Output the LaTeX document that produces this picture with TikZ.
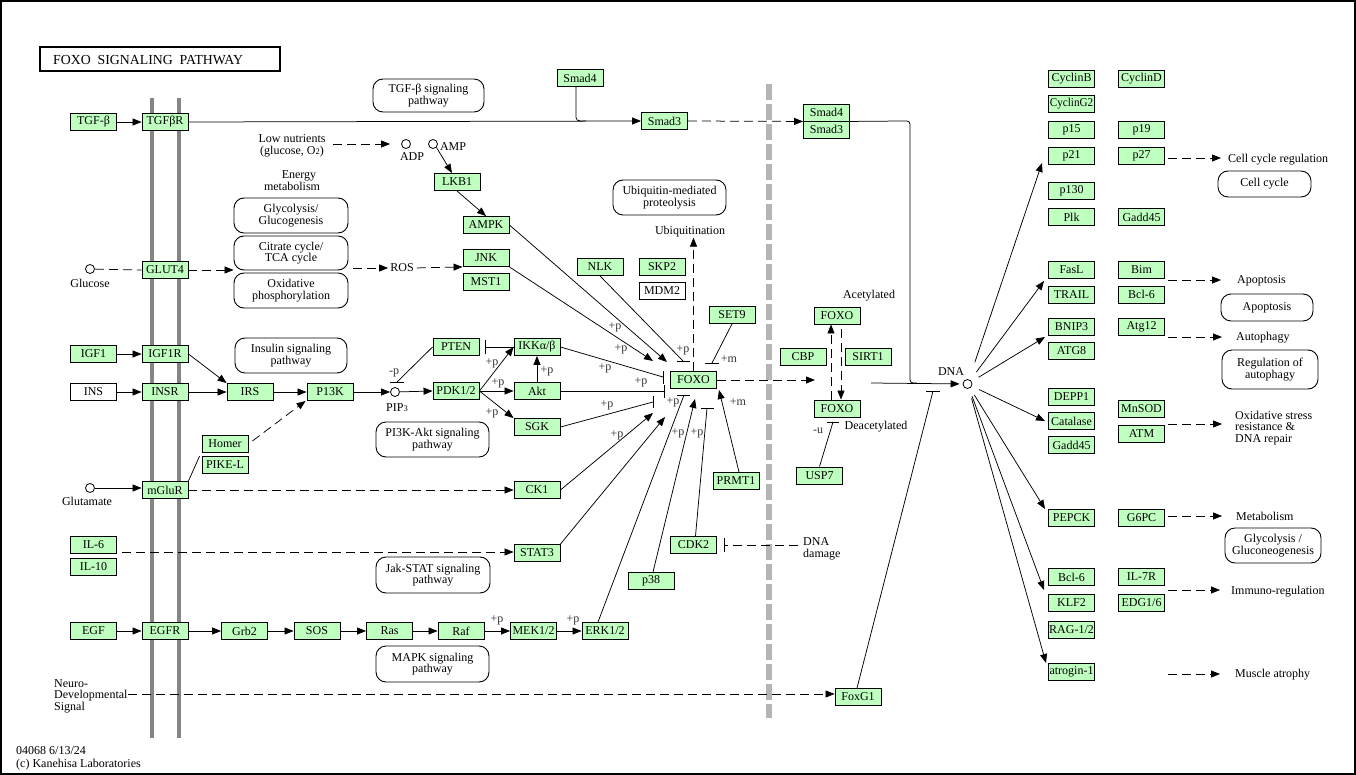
\documentclass[tikz,border=0pt]{standalone}
\usepackage{fontspec}
\usepackage{graphicx}
\setmainfont{Liberation Serif}
\usetikzlibrary{arrows.meta}
\definecolor{kg}{HTML}{BFFFBF}
\definecolor{memb}{HTML}{858585}
\definecolor{sepc}{HTML}{B5B5B5}
\definecolor{txg}{HTML}{333333}
\newcommand{\nf}{\fontsize{12}{12}\selectfont}
\newcommand{\tf}{\fontsize{12}{11.5}\selectfont}
\newcommand{\pf}{\fontsize{12}{12}\selectfont}
\newcommand{\cz}[1]{\scalebox{0.93}[1]{#1}}
\newcommand{\sbs}[1]{{\fontsize{8.5}{8.5}\selectfont #1}}
\tikzset{
 gn/.style={draw, fill=kg, line width=0.9pt, minimum width=46pt, minimum height=17pt, inner sep=0pt, font=\nf},
 wn/.style={gn, fill=white},
 pw/.style={draw, line width=0.9pt, rounded corners=10pt, align=center, inner sep=0pt, font=\tf},
 ln/.style={line width=0.75pt},
 ar/.style={ln, -{Triangle[length=9pt,width=7pt]}},
 da/.style={ln, dash pattern=on 9pt off 5pt},
 dar/.style={da, -{Triangle[length=9pt,width=7pt]}},
 tx/.style={font=\tf, inner sep=0pt, align=center},
 txl/.style={font=\tf, inner sep=0pt, align=left, anchor=west},
 pl/.style={font=\pf, inner sep=0pt, text=txg},
 cir/.style={circle, draw, line width=0.8pt, fill=white, minimum size=9pt, inner sep=0pt},
}
\begin{document}
\begin{tikzpicture}[x=1pt,y=-1pt]
\useasboundingbox (0,0) rectangle (1356,775);
\draw[line width=1.2pt] (1,1) rectangle (1355,774);
% title
\node[draw, line width=1.6pt, minimum width=240pt, minimum height=24pt, inner sep=0pt] (title) at (160,59) {};
\node[anchor=west, inner sep=0pt, font=\fontsize{13.8}{13.8}\selectfont] (titletext) at (53,60) {FOXO\ \ SIGNALING\ \ PATHWAY};
% membrane and separator
\draw[line width=4pt, memb] (152,98) -- (152,738);
\draw[line width=4pt, memb] (179,98) -- (179,738);
\draw[line width=6.5pt, sepc, dash pattern=on 16pt off 4pt] (769,84) -- (769,718);

% pathway boxes
\node[pw, minimum width=111pt, minimum height=33pt] (tgfpw) at (428.5,95.5) {TGF-β signaling\\pathway};
\node[pw, minimum width=114pt, minimum height=35pt] (glyc) at (291,215.5) {Glycolysis/\\Glucogenesis};
\node[pw, minimum width=114pt, minimum height=34pt] (citr) at (291,253) {Citrate cycle/\\TCA cycle};
\node[pw, minimum width=114pt, minimum height=35pt] (oxph) at (291,290.5) {Oxidative\\phosphorylation};
\node[pw, minimum width=113pt, minimum height=35pt] (ubpw) at (669.5,197.5) {Ubiquitin-mediated\\proteolysis};
\node[pw, minimum width=112pt, minimum height=35pt] (inspw) at (291,355.5) {Insulin signaling\\pathway};
\node[pw, minimum width=113pt, minimum height=35pt] (pi3kpw) at (432.5,439.5) {PI3K-Akt signaling\\pathway};
\node[pw, minimum width=114pt, minimum height=36pt] (jakpw) at (433,575) {Jak-STAT signaling\\pathway};
\node[pw, minimum width=113pt, minimum height=36pt] (mapkpw) at (432.5,664) {MAPK signaling\\pathway};
\node[pw, minimum width=93pt, minimum height=26pt] (ccpw) at (1264.5,184) {Cell cycle};
\node[pw, minimum width=92pt, minimum height=27pt] (appw) at (1267,307.5) {Apoptosis};
\node[pw, minimum width=96pt, minimum height=39pt] (aupw) at (1270,369.5) {Regulation of\\autophagy};
\node[pw, minimum width=96pt, minimum height=35pt] (glpw) at (1273,545.5) {Glycolysis /\\Gluconeogenesis};

% gene nodes
\node[gn] (tgfb) at (93.5,122) {TGF-β};
\node[gn] (tgfbr) at (165,122) {TGFβR};
\node[gn] (smad4a) at (580,78) {Smad4};
\node[gn] (smad3a) at (664.5,121) {Smad3};
\node[gn] (smadc4) at (826.5,112.5) {Smad4};
\node[gn] (smadc3) at (826.5,129.5) {Smad3};
\node[gn] (lkb1) at (457,182) {LKB1};
\node[gn] (ampk) at (486,225) {AMPK};
\node[gn] (jnk) at (486,258) {JNK};
\node[gn] (mst1) at (486,282) {MST1};
\node[gn] (glut4) at (165,270) {GLUT4};
\node[gn] (nlk) at (600,267) {NLK};
\node[gn] (skp2) at (662,267) {SKP2};
\node[wn] (mdm2) at (662,291) {MDM2};
\node[gn] (set9) at (732,315) {SET9};
\node[gn] (igf1) at (93.5,354) {IGF1};
\node[gn] (igf1r) at (165,354) {IGF1R};
\node[wn] (ins) at (93.5,392) {INS};
\node[gn] (insr) at (165,392) {INSR};
\node[gn] (irs) at (250,392) {IRS};
\node[gn] (pi3k) at (330,392) {P13K};
\node[gn] (pten) at (456,347) {PTEN};
\node[gn] (ikk) at (537,347) {IKKα/β};
\node[gn] (pdk) at (456,391) {PDK1/2};
\node[gn] (akt) at (537,391) {Akt};
\node[gn] (sgk) at (537,427) {SGK};
\node[gn] (foxo) at (693.5,380) {FOXO};
\node[gn] (homer) at (225,444) {Homer};
\node[gn] (pikel) at (225,465) {PIKE-L};
\node[gn] (mglur) at (165,490) {mGluR};
\node[gn] (ck1) at (537,490) {CK1};
\node[gn] (prmt1) at (736,481) {PRMT1};
\node[gn] (cbp) at (803,357) {CBP};
\node[gn] (sirt1) at (868,357) {SIRT1};
\node[gn] (foxoa) at (837,315.5) {FOXO};
\node[gn] (foxod) at (837,408.5) {FOXO};
\node[gn] (usp7) at (819.5,475.5) {USP7};
\node[gn] (il6) at (93.5,545) {IL-6};
\node[gn] (il10) at (93.5,567) {IL-10};
\node[gn] (stat3) at (537,553) {STAT3};
\node[gn] (cdk2) at (693.5,545) {CDK2};
\node[gn] (p38) at (651,581) {p38};
\node[gn] (egf) at (93.5,631) {EGF};
\node[gn] (egfr) at (165,631) {EGFR};
\node[gn] (grb2) at (244.5,631) {Grb2};
\node[gn] (sos) at (317,631) {SOS};
\node[gn] (ras) at (389.5,631) {Ras};
\node[gn] (raf) at (461,631) {Raf};
\node[gn] (mek) at (533.5,631) {MEK1/2};
\node[gn] (erk) at (605,631) {ERK1/2};
\node[gn] (foxg1) at (858,697) {FoxG1};
% right columns
\node[gn] (cyclinb) at (1071.5,78.5) {CyclinB};
\node[gn] (cyclind) at (1141.5,78.5) {CyclinD};
\node[gn] (cycling2) at (1071.5,104) {\cz{CyclinG2}};
\node[gn] (p15) at (1071.5,129.5) {p15};
\node[gn] (p19) at (1141.5,129.5) {p19};
\node[gn] (p21) at (1071.5,155.5) {p21};
\node[gn] (p27) at (1141.5,155.5) {p27};
\node[gn] (p130) at (1071.5,191) {p130};
\node[gn] (plk) at (1071.5,217) {Plk};
\node[gn] (gadda) at (1141.5,217) {Gadd45};
\node[gn] (fasl) at (1071.5,270) {FasL};
\node[gn] (bim) at (1141.5,270) {Bim};
\node[gn] (trail) at (1071.5,294.5) {TRAIL};
\node[gn] (bcla) at (1141.5,294.5) {Bcl-6};
\node[gn] (bnip3) at (1071.5,327) {BNIP3};
\node[gn] (atg12) at (1141.5,327) {Atg12};
\node[gn] (atg8) at (1071.5,350.5) {ATG8};
\node[gn] (depp1) at (1071.5,397) {DEPP1};
\node[gn] (mnsod) at (1141.5,409) {MnSOD};
\node[gn] (catalase) at (1071.5,421) {Catalase};
\node[gn] (atm) at (1141.5,433.5) {ATM};
\node[gn] (gaddb) at (1071.5,445) {Gadd45};
\node[gn] (pepck) at (1071.5,517.5) {PEPCK};
\node[gn] (g6pc) at (1141.5,517.5) {G6PC};
\node[gn] (bclb) at (1071.5,577) {Bcl-6};
\node[gn] (il7r) at (1141.5,577) {IL-7R};
\node[gn] (klf2) at (1071.5,602.5) {KLF2};
\node[gn] (edg) at (1141.5,602.5) {EDG1/6};
\node[gn] (rag) at (1071.5,629.5) {RAG-1/2};
\node[gn] (atrogin) at (1071.5,672) {atrogin-1};

% small molecules
\node[cir] (glc) at (90,269) {};
\node[cir] (glu) at (90,488) {};
\node[cir] (adp) at (406,144) {};
\node[cir] (amp) at (433,144) {};
\node[cir] (pip3) at (395,392) {};
\node[cir] (dna) at (967.5,384) {};

% texts
\node[tx] (glctx) at (90,283) {Glucose};
\node[tx] (glutx) at (87,501) {Glutamate};
\node[tx] (adptx) at (412,157) {ADP};
\node[tx] (amptx) at (453,147) {AMP};
\node[tx] (pip3tx) at (397,408) {PIP\sbs{3}};
\node[tx] (lown) at (292,146) {Low nutrients\\(glucose, O\sbs{2})};
\node[tx] (energy) at (292,180.5) {\ \ \ \ \,Energy\\metabolism};
\node[tx] (ros) at (402,268) {ROS};
\node[tx] (ubiq) at (690,232) {Ubiquitination};
\node[tx] (acet) at (869,296) {Acetylated};
\node[tx] (deacet) at (876,427) {Deacetylated};
\node[tx] (dnatx) at (951,372) {DNA};
\node[txl] (dmg) at (803,549) {DNA\\damage};
\node[txl] (neuro) at (54,696) {Neuro-\\Developmental\\Signal};
\node[txl, font=\fontsize{12}{12.5}\selectfont] (footer) at (16,758.5) {04068 6/13/24\\(c) Kanehisa Laboratories};
\node[txl] (ccreg) at (1228,160) {Cell cycle regulation};
\node[txl] (aptx) at (1237,281) {Apoptosis};
\node[txl] (autx) at (1236,338) {Autophagy};
\node[txl] (oxtx) at (1235,428) {Oxidative stress\\resistance \&\\DNA repair};
\node[txl] (metx) at (1236,516) {Metabolism};
\node[txl] (imtx) at (1231,592) {Immuno-regulation};
\node[txl] (mutx) at (1235,675) {Muscle atrophy};

% +p labels
\node[pl] (l1) at (615,327) {+p};
\node[pl] (l2) at (621,349) {+p};
\node[pl] (l3) at (605,368) {+p};
\node[pl] (l4) at (641,382) {+p};
\node[pl] (l5) at (607,405) {+p};
\node[pl] (l6) at (617,435) {+p};
\node[pl] (l7) at (683,350) {+p};
\node[pl] (l8) at (673,402) {+p};
\node[pl] (l9) at (678,433) {+p};
\node[pl] (l10) at (697,433) {+p};
\node[pl] (l11) at (729,359) {+m};
\node[pl] (l12) at (738,402) {+m};
\node[pl] (l13) at (492,363) {+p};
\node[pl] (l14) at (547,371) {+p};
\node[pl] (l15) at (498,383) {+p};
\node[pl] (l16) at (492,413) {+p};
\node[pl] (l17) at (497,620) {+p};
\node[pl] (l18) at (573,620) {+p};
\node[pl] (l19) at (394,373) {-p};
\node[pl] (l20) at (818,431) {-u};

% free-end coordinates
\coordinate (fJ) at (653,361);
\coordinate (fA) at (667,362);
\coordinate (fN) at (683,361);
\coordinate (fI) at (663,377);
\coordinate (fK) at (664,391);
\coordinate (fS) at (653,402);
\coordinate (fC) at (653,413);
\coordinate (fT) at (665,417);
\coordinate (fE) at (684,395);
\coordinate (fP) at (695,399);
\coordinate (fD) at (707,408);
\coordinate (fR) at (719,390);
\coordinate (fM) at (712,363);
\coordinate (ptb) at (397,382);
\coordinate (ikb) at (485,347);
\coordinate (cdb) at (724,545);
\coordinate (fgb) at (933,391);
\coordinate (ub) at (833,422);
\coordinate (acx) at (871,383);
\coordinate (acpt) at (815,380);
\coordinate (lnS) at (333,144);
\coordinate (ilS) at (122,552);
\coordinate (nS) at (128,694);
\coordinate (tP21) at (1042,163);
\coordinate (tFas) at (1044,281);
\coordinate (tBnip) at (1045,337);
\coordinate (tCat) at (1045,421);
\coordinate (tPep) at (1045,509);
\coordinate (tKlf) at (1044,590);
\coordinate (tAtro) at (1046,663);
\coordinate (ccS) at (1168,158);
\coordinate (apS) at (1168,280);
\coordinate (auS) at (1168,337);
\coordinate (oxS) at (1168,424);
\coordinate (meS) at (1168,516);
\coordinate (imS) at (1168,590);
\coordinate (muS) at (1168,674);

% left edges
\draw[ar] (tgfb.east) -- (tgfbr.west);
\draw[ar] (tgfbr.east) -- (smad3a.west);
\draw[ln] ([xshift=-4pt]smad4a.south) -- (576,114) .. controls (576,121) .. (586,121);
\draw[dar] (smad3a.east) -- (smadc4.south west);
\draw[ln] (smadc4.south east) -- (903,121) .. controls (910,121) .. (910,128) -- (910,376) .. controls (910,383) .. (917,383);
\draw[dar, shorten >=11pt] (lnS) -- (adp);
\draw[ar] (amp.south east) -- ([xshift=-5pt]lkb1.north);
\draw[ar] (lkb1.south) -- (ampk.north);
\draw[da] (glc) -- (glut4.west);
\draw[dar] (glut4.east) -- (glut4.east -| citr.west);
\draw[dar, shorten <=5pt, shorten >=2pt] (citr.east |- ros) -- (ros.west);
\draw[dar, shorten <=3pt] (ros.east) -- (jnk.south west);
\draw[ar] (igf1.east) -- (igf1r.west);
\draw[ar] (ins.east) -- (insr.west);
\draw[ar] (insr.east) -- (irs.west);
\draw[ar] (igf1r.east) -- (irs.north west);
\draw[ar] (irs.east) -- (pi3k.west);
\draw[ar] (pi3k.east) -- (pip3);
\draw[ar] (pip3) -- (pdk.west);
\draw[ln] (pten.west) -- (ptb);
\draw[ln] ([xshift=-7pt]ptb) -- ([xshift=7pt]ptb);
\draw[ln] (ikk.west) -- (ikb);
\draw[ln] ([yshift=-7pt]ikb) -- ([yshift=7pt]ikb);
\draw[ar] (pdk.east) -- (ikk.west);
\draw[ar] (pdk.east) -- (akt.west);
\draw[ar] (pdk.east) -- (sgk.north west);
\draw[ar] (akt.north) -- (ikk.south);
\draw[ar] (glu) -- (glu -| mglur.west);
\draw[ln] (mglur.north east) -- ([xshift=-2pt]pikel.north west);
\draw[dar, shorten <=5pt] (homer.east) -- ([xshift=-1pt]pi3k.south west);
\draw[dar] (mglur.east) -- (mglur.east -| ck1.west);
\draw[dar] (ilS) -- (ilS -| stat3.west);
\draw[dar] (nS) -- (nS -| foxg1.west);
\draw[ar] (egf.east) -- (egfr.west);
\draw[ar] (egfr.east) -- (grb2.west);
\draw[ar] (grb2.east) -- (sos.west);
\draw[ar] (sos.east) -- (ras.west);
\draw[ar] (ras.east) -- (raf.west);
\draw[ar] (raf.east) -- (mek.west);
\draw[ar] (mek.east) -- (erk.west);

% into FOXO
\draw[ar] (jnk.south east) -- (fJ);
\draw[ar] (ampk.east) -- (fA);
\draw[ln] (nlk.south) -- (fN);
\draw[ln] ([xshift=-6pt]fN) -- ([xshift=7pt]fN);
\draw[ln] (ikk.east) -- (fI);
\draw[ln] ([yshift=-7pt]fI) -- ([yshift=6pt]fI);
\draw[ln] (akt.east) -- (fK);
\draw[ln] ([yshift=-7pt]fK) -- ([yshift=6pt]fK);
\draw[ln] (sgk.east) -- (fS);
\draw[ln] ([yshift=-6pt]fS) -- ([yshift=6pt]fS);
\draw[ar] (ck1.east) -- (fC);
\draw[ar] (stat3.north east) -- (fT);
\draw[ln] ([xshift=-7pt]erk.north) -- (fE);
\draw[ln] ([xshift=-7pt]fE) -- ([xshift=6pt]fE);
\draw[ar] ([xshift=2pt]p38.north) -- (fP);
\draw[ln] ([xshift=2pt]cdk2.north) -- (fD);
\draw[ln] ([xshift=-6pt]fD) -- ([xshift=7pt]fD);
\draw[ar] ([xshift=3pt]prmt1.north) -- (fR);
\draw[ln] (set9.south) -- (fM);
\draw[ln] ([xshift=-7pt]fM) -- ([xshift=7pt]fM);
\draw[dar] (foxo.north) -- (foxo.north |- ubiq.south);
\draw[dar] (foxo.east) -- (acpt);
\draw[dar] ([xshift=-6pt]foxod.north) -- ([xshift=-6pt]foxoa.south);
\draw[dar, shorten <=5pt] ([xshift=4pt]foxoa.south) -- ([xshift=4pt]foxod.north);
\draw[ln] (usp7.north) -- (ub);
\draw[ln] ([xshift=-6pt]ub) -- ([xshift=6pt]ub);
\draw[da, shorten <=5pt] (dmg.west |- cdb) -- (cdb);
\draw[ln] ([yshift=-7pt]cdb) -- ([yshift=7pt]cdb);
\draw[ln] ([xshift=-1pt]foxg1.north) -- (fgb);
\draw[ln] ([xshift=-7pt]fgb) -- ([xshift=7pt]fgb);
\draw[ar, shorten >=3pt] (acx) -- (dna);

% from DNA
\draw[ar, shorten <=18pt] (dna) -- (tP21);
\draw[ar, shorten <=10pt] (dna) -- (tFas);
\draw[ar, shorten <=8pt] (dna) -- (tBnip);
\draw[ar, shorten <=8pt] (dna) -- (tCat);
\draw[ar, shorten <=8pt] (dna) -- (tPep);
\draw[ar, shorten <=8pt] (dna) -- (tKlf);
\draw[ar, shorten <=10pt] (dna) -- (tAtro);

% right outputs
\draw[dar, shorten >=7pt] (ccS) -- (ccS -| ccreg.west);
\draw[dar, shorten >=16pt] (apS) -- (apS -| aptx.west);
\draw[dar, shorten >=14pt] (auS) -- (auS -| autx.west);
\draw[dar, shorten >=13pt] (oxS) -- (oxS -| oxtx.west);
\draw[dar, shorten >=14pt] (meS) -- (meS -| metx.west);
\draw[dar, shorten >=11pt] (imS) -- (imS -| imtx.west);
\draw[dar, shorten >=15pt] (muS) -- (muS -| mutx.west);
\end{tikzpicture}
\end{document}
